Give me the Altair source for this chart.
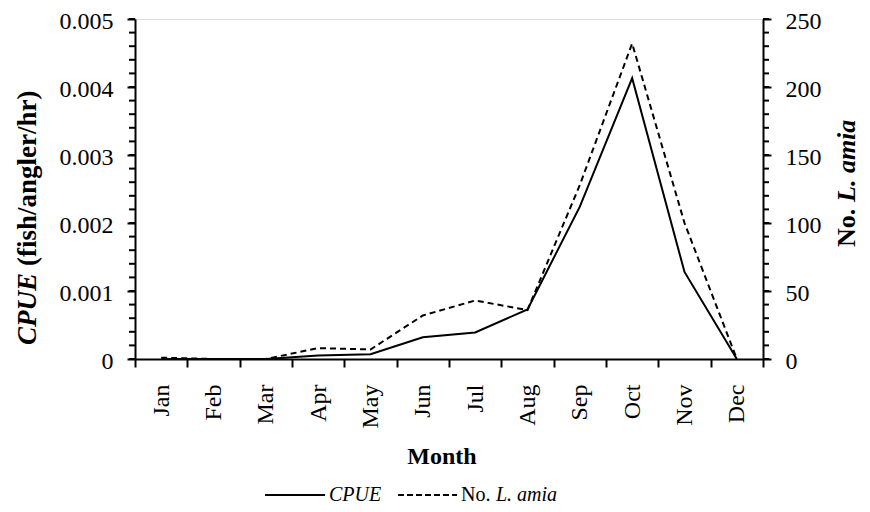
import altair as alt
import pandas as pd

months = ["Jan", "Feb", "Mar", "Apr", "May", "Jun", "Jul", "Aug", "Sep", "Oct", "Nov", "Dec"]
cpue = [0, 0, 0, 0.00005, 0.00007, 0.00032, 0.00039, 0.00073, 0.00224, 0.00413, 0.00128, 0]
amia = [1, 0, 0, 8, 7, 32, 43, 36, 128, 232, 100, 0]
left_ticks = [0, 0.001, 0.002, 0.003, 0.004, 0.005]
right_ticks = [0, 50, 100, 150, 200, 250]
minor_steps = [i * 0.0002 for i in range(26)]

df = pd.DataFrame({"Month": months, "CPUE": cpue, "Amia": amia})
minor_df = pd.DataFrame({"v": minor_steps})

FONT = "Liberation Serif"
W, H = 628, 340
TS = 26  # axis title size

xenc = alt.X(
    "Month:N", sort=months, bandPosition=0.5,
    scale=alt.Scale(type="band", paddingInner=0, paddingOuter=0),
    axis=alt.Axis(title=None, labelAngle=270, tickBand="extent", tickSize=8, tickWidth=2,
                  domainWidth=2, domainColor="black", tickColor="black",
                  labelFont=FONT, labelFontSize=24, labelColor="black", labelPadding=17),
)

cpue_line = alt.Chart(df).mark_line(color="black", strokeWidth=2).encode(
    x=xenc,
    y=alt.Y("CPUE:Q", scale=alt.Scale(domain=[0, 0.005], nice=False, zero=True),
            axis=alt.Axis(title=None, values=left_ticks, tickSize=8, tickWidth=2, domainWidth=2,
                          domainColor="black", tickColor="black", grid=False,
                          labelExpr="datum.value == 0 ? '0' : format(datum.value, '.3f')",
                          labelFont=FONT, labelFontSize=24, labelColor="black", labelPadding=14,
                          labelOffset=2)),
)

minor_left = alt.Chart(minor_df).mark_rule(color="black", strokeWidth=2).encode(
    y=alt.Y("v:Q", scale=alt.Scale(domain=[0, 0.005], nice=False)),
    x=alt.value(-6), x2=alt.value(0),
)
minor_right = alt.Chart(minor_df).mark_rule(color="black", strokeWidth=2).encode(
    y=alt.Y("v:Q", scale=alt.Scale(domain=[0, 0.005], nice=False)),
    x=alt.value(W), x2=alt.value(W + 6),
)

one = pd.DataFrame({"a": [0]})

def txt(text, x, y, size=TS, weight="normal", style="normal", angle=0, align="left", baseline="middle"):
    return alt.Chart(one).mark_text(
        text=text, font=FONT, fontSize=size, fontWeight=weight, fontStyle=style,
        angle=angle, align=align, baseline=baseline, color="black",
    ).encode(x=alt.value(x), y=alt.value(y))

LY = 476
left_layer = alt.layer(
    cpue_line, minor_left, minor_right,
    txt("CPUE", -107, 326, size=27, weight="bold", style="italic", angle=270),
    txt("(fish/angler/hr)", -107, 326 - 79, size=27, weight="bold", angle=270),
    txt("No.", W + 84, 228, weight="bold", angle=270),
    txt("L. amia", W + 84, 228 - 45, weight="bold", style="italic", angle=270),
    txt("Month", 307, 438, size=24, weight="bold", align="center"),
    alt.Chart(one).mark_rule(color="black", strokeWidth=2).encode(
        x=alt.value(130), x2=alt.value(190), y=alt.value(LY)),
    txt("CPUE", 194, LY, size=20, style="italic"),
    alt.Chart(one).mark_rule(color="black", strokeWidth=2, strokeDash=[6, 3]).encode(
        x=alt.value(263), x2=alt.value(322), y=alt.value(LY)),
    txt("No.", 326, LY, size=20),
    txt("L. amia", 361, LY, size=20, style="italic"),
)

amia_line = alt.Chart(df).mark_line(color="black", strokeWidth=2, strokeDash=[6, 4]).encode(
    x=xenc,
    y=alt.Y("Amia:Q", scale=alt.Scale(domain=[0, 250], nice=False),
            axis=alt.Axis(title=None, orient="right", values=right_ticks, tickSize=8, tickWidth=2,
                          domainWidth=2, domainColor="black", tickColor="black", grid=False,
                          labelFont=FONT, labelFontSize=24, labelColor="black", labelPadding=14,
                          labelOffset=2)),
)

chart = alt.layer(left_layer, amia_line).resolve_scale(y="independent").properties(
    width=W, height=H, autosize="none",
    padding={"left": 127, "top": 11, "right": 99, "bottom": 145},
).configure_view(stroke="black", strokeWidth=2).configure(background="white")

chart.save("out.html", embed_options={"renderer": "svg", "actions": False})
